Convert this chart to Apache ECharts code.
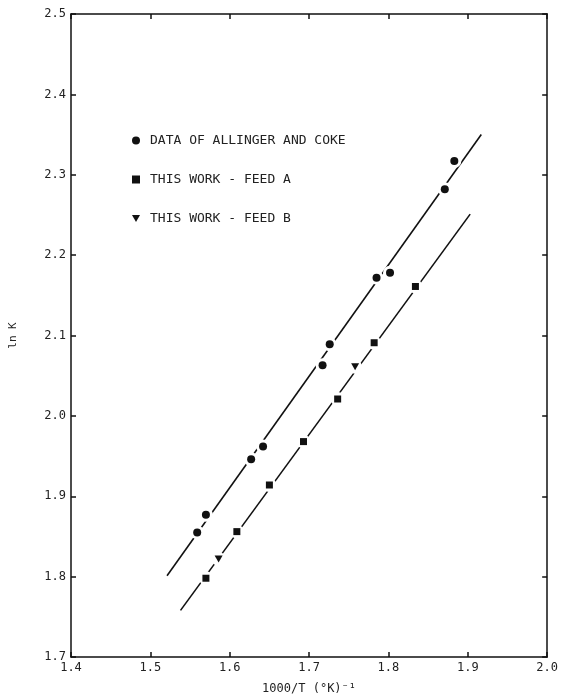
<!DOCTYPE html>
<html>
<head>
<meta charset="utf-8">
<script src="https://cdn.jsdelivr.net/npm/echarts@6/dist/echarts.min.js"></script>
<style>
  html, body { margin: 0; padding: 0; background: #fff; }
  #chart { width: 561px; height: 700px; }
</style>
</head>
<body>
<div id="chart"></div>
<script>
// 数据
var allingerX = [1.559, 1.570, 1.627, 1.642, 1.717, 1.726, 1.785, 1.802, 1.871, 1.883];
var allingerY = [1.855, 1.877, 1.946, 1.962, 2.063, 2.089, 2.172, 2.178, 2.282, 2.317];
var feedAX = [1.570, 1.609, 1.650, 1.693, 1.736, 1.782, 1.834];
var feedAY = [1.798, 1.856, 1.914, 1.968, 2.021, 2.091, 2.161];
var feedBX = [1.586, 1.758];
var feedBY = [1.822, 2.061];
// 拟合直线端点
var fitAllingerX = [1.521, 1.917];
var fitAllingerY = [1.801, 2.350];
var fitFeedX = [1.538, 1.903];
var fitFeedY = [1.758, 2.251];

var names = ['DATA OF ALLINGER AND COKE', 'THIS WORK - FEED A', 'THIS WORK - FEED B'];
var triDown = 'path://M0,0 L10,0 L5,9 Z';
var ink = '#111';
var font = '"DejaVu Sans Mono", "Liberation Mono", monospace';

function pairs(xs, ys){
    var out = [];
    for(var i=0;i<xs.length;i++){
        out.push([xs[i], ys[i]]);
    }
    return out;
}

function fmt(v){ return v.toFixed(1); }

var myChart = echarts.init(document.getElementById('chart'));

var axisCommon = {
    type: 'value',
    interval: 0.1,
    axisLine: { show: true, lineStyle: { color: ink, width: 1.5 } },
    axisTick: { show: true, inside: true, length: 5, lineStyle: { color: ink, width: 1.5 } },
    splitLine: { show: false }
};

var option = {
    backgroundColor: '#fff',
    animation: false,
    grid: { left: 71, right: 10, top: 14, bottom: 37 },
    legend: {
        data: names,
        orient: 'vertical',
        left: 127,
        top: 129,
        itemWidth: 8,
        itemHeight: 8,
        itemGap: 26,
        textStyle: { fontFamily: font, fontSize: 13, color: '#222', padding: [0, 0, 0, 5] },
        selectedMode: false
    },
    xAxis: [
        Object.assign({}, axisCommon, {
            min: 1.4, max: 2.0, position: 'bottom',
            axisLabel: { formatter: fmt, margin: 5, fontFamily: font, fontSize: 12, color: '#222' },
            name: '1000/T (°K)⁻¹',
            nameLocation: 'middle',
            nameGap: 26,
            nameTextStyle: { fontFamily: font, fontSize: 12, color: '#222' }
        }),
        Object.assign({}, axisCommon, {
            min: 1.4, max: 2.0, position: 'top',
            axisLabel: { show: false }
        })
    ],
    yAxis: [
        Object.assign({}, axisCommon, {
            min: 1.7, max: 2.5, position: 'left',
            axisLabel: { formatter: fmt, margin: 5, fontFamily: font, fontSize: 12, color: '#222' },
            name: 'ln K',
            nameLocation: 'middle',
            nameRotate: 90,
            nameGap: 52,
            nameTextStyle: { fontFamily: font, fontSize: 11, color: '#222' }
        }),
        Object.assign({}, axisCommon, {
            min: 1.7, max: 2.5, position: 'right',
            axisLabel: { show: false }
        })
    ],
    series: [
        {
            name: 'fitAllinger', type: 'line', symbol: 'none', z: 1,
            data: pairs(fitAllingerX, fitAllingerY),
            lineStyle: { color: ink, width: 1.6 }
        },
        {
            name: 'fitFeed', type: 'line', symbol: 'none', z: 1,
            data: pairs(fitFeedX, fitFeedY),
            lineStyle: { color: ink, width: 1.6 }
        },
        // 白色底圈，让直线在点附近断开
        {
            name: 'halo', type: 'scatter', symbol: 'circle', symbolSize: 14, z: 2,
            data: pairs(allingerX, allingerY).concat(pairs(feedAX, feedAY), pairs(feedBX, feedBY)),
            itemStyle: { color: '#fff', opacity: 1 },
            silent: true
        },
        {
            name: names[0], type: 'scatter', symbol: 'circle', symbolSize: 8, z: 3,
            data: pairs(allingerX, allingerY),
            itemStyle: { color: ink, opacity: 1 }
        },
        {
            name: names[1], type: 'scatter', symbol: 'rect', symbolSize: 7, z: 3,
            data: pairs(feedAX, feedAY),
            itemStyle: { color: ink, opacity: 1 }
        },
        {
            name: names[2], type: 'scatter', symbol: triDown, symbolSize: [8, 7], z: 3,
            data: pairs(feedBX, feedBY),
            itemStyle: { color: ink, opacity: 1 }
        }
    ]
};

myChart.setOption(option);
</script>
</body>
</html>
